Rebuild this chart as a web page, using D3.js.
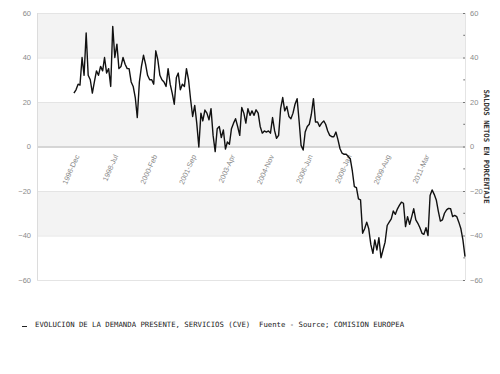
<!DOCTYPE html>
<html>
<head>
<meta charset="utf-8">
<script src="https://cdn.jsdelivr.net/npm/d3@7"></script>
<style>
  body { margin: 0; background: #fff; }
  .axis text { font-family: "Liberation Sans", Arial, sans-serif; font-size: 7.5px; fill: #8a8a8a; }
  .mono { font-family: "DejaVu Sans Mono", monospace; font-size: 7.3px; fill: #222; white-space: pre; }
</style>
</head>
<body>
<script>
var width = 500,
    height = 374;

// monthly series, starting 1996-Dec
var startMonth = "1996-Dec";
var values = [
  24, 25.5, 28, 27.6, 40, 32, 51, 32, 30, 24,
  29, 34, 32, 36, 34, 40, 33, 35, 27, 54,
  40, 46, 35, 36, 40, 37, 35, 35, 29, 27,
  22, 13, 29, 36, 41, 37, 32, 30, 30, 28,
  43, 39, 32, 30, 29, 27, 35, 28, 24, 19,
  31, 33, 25.5, 28, 27, 35, 30, 21, 13.5, 18.5,
  10.5, -0.2, 15, 11.5, 16.4, 15, 12, 17, 5, -2.3,
  8, 9, 4, 7.4, -1.2, 2, 1, 8, 10.5, 12.5,
  9, 5, 17.5, 15, 10.5, 17, 14, 16, 14, 16.5,
  15, 9, 6, 7, 6.5, 7, 6, 13, 7, 3.7,
  5, 17, 22, 16, 18, 13.5, 12.5, 15, 19, 21.5,
  11, 0.5, -1.6, 6.5, 9, 10, 14.5, 21.5, 11, 11,
  9, 10.5, 11.5, 10, 7, 5, 4.4, 4.4, 6.5, 3,
  -1, -3, -3.5, -3.5, -4.5, -5.5, -11, -18, -18.5, -23.5,
  -24, -39, -37, -34, -37, -44, -48, -42, -46.5, -41,
  -50, -46.5, -43, -35.5, -34, -32.5, -29, -30.5, -28, -26.5,
  -25, -25.5, -36, -31.5, -35, -31.5, -28, -33, -34.5, -36.5,
  -39, -39.5, -36.5, -40, -22, -19.5, -21.5, -24, -29, -33.5,
  -33, -30, -28.5, -27.8, -28, -31.5, -31, -31.5, -34, -37,
  -42, -49.5
];

var xTickLabels = ["1996-Dec", "1998-Jul", "2000-Feb", "2001-Sep", "2003-Apr",
                   "2004-Nov", "2006-Jun", "2008-Jan", "2009-Aug", "2011-Mar"];
var yTicks = [-60, -40, -20, 0, 20, 40, 60];
var yMinorTicks = [-50, -30, -10, 10, 30, 50];
var bands = [[40, 60], [0, 20], [-40, -20]];

var legendText = "EVOLUCION DE LA DEMANDA PRESENTE, SERVICIOS (CVE)  Fuente - Source; COMISION EUROPEA";
var yTitle = "SALDOS NETOS EN PORCENTAJE";

var parseMonth = d3.timeParse("%Y-%b");
var start = parseMonth(startMonth);

var data = values.map(function(v, i) {
  return { date: d3.timeMonth.offset(start, i), value: v };
});

var plotLeft = 37, plotRight = 465, plotTop = 13, plotBottom = 280;

var x = d3.scaleTime()
    .domain([d3.timeMonth.offset(start, -18), d3.timeMonth.offset(start, values.length - 1)])
    .range([plotLeft, plotRight]);

var y = d3.scaleLinear()
    .domain([-60, 60])
    .range([plotBottom, plotTop]);

var svg = d3.select("body").append("svg")
    .attr("width", width)
    .attr("height", height);

// alternating bands
svg.append("g").selectAll("rect")
    .data(bands)
  .enter().append("rect")
    .attr("x", plotLeft)
    .attr("width", plotRight - plotLeft)
    .attr("y", function(d) { return y(d[1]); })
    .attr("height", function(d) { return y(d[0]) - y(d[1]); })
    .style("fill", "#f3f3f3");

// grid lines
svg.append("g").selectAll("line")
    .data(yTicks)
  .enter().append("line")
    .attr("x1", plotLeft)
    .attr("x2", plotRight)
    .attr("y1", function(d) { return y(d) + 0.5; })
    .attr("y2", function(d) { return y(d) + 0.5; })
    .style("stroke", function(d) { return d === 0 ? "#c8c8c8" : "#e4e4e4"; })
    .style("stroke-width", function(d) { return d === 0 ? 1.6 : 1; });

// frame sides
svg.append("line")
    .attr("x1", plotLeft + 0.5).attr("x2", plotLeft + 0.5)
    .attr("y1", plotTop).attr("y2", plotBottom)
    .style("stroke", "#dcdcdc");
svg.append("line")
    .attr("x1", plotRight + 0.5).attr("x2", plotRight + 0.5)
    .attr("y1", plotTop).attr("y2", plotBottom)
    .style("stroke", "#e4e4e4");

// left axis
svg.append("g")
    .attr("class", "axis")
    .attr("transform", "translate(" + (plotLeft - 2) + ",0)")
    .call(d3.axisLeft(y).tickValues(yTicks).tickSize(0).tickPadding(4))
    .call(function(g) { g.select(".domain").remove(); });

// right axis
var rAxis = svg.append("g")
    .attr("class", "axis")
    .attr("transform", "translate(" + plotRight + ",0)")
    .call(d3.axisRight(y).tickValues(yTicks).tickSize(-2).tickPadding(5))
    .call(function(g) { g.select(".domain").remove(); });
rAxis.selectAll(".tick line").style("stroke", "#777");

svg.append("g").selectAll("rect")
    .data(yMinorTicks)
  .enter().append("rect")
    .attr("x", plotRight - 1.5)
    .attr("y", function(d) { return y(d) - 0.5; })
    .attr("width", 1.2)
    .attr("height", 1.2)
    .style("fill", "#555");

// x tick labels
svg.append("g").selectAll("text")
    .data(xTickLabels)
  .enter().append("text")
    .attr("transform", function(d) {
      return "translate(" + (x(parseMonth(d)) + 1) + "," + (plotBottom - 126) + ") rotate(-66)";
    })
    .attr("text-anchor", "end")
    .attr("dy", "0.7em")
    .style("font-family", "Liberation Sans, Arial, sans-serif")
    .style("font-size", "7.3px")
    .style("fill", "#8a8a8a")
    .text(function(d) { return d; });

// series line
var line = d3.line()
    .x(function(d) { return x(d.date); })
    .y(function(d) { return y(d.value); });

svg.append("path")
    .datum(data)
    .attr("d", line)
    .style("fill", "none")
    .style("stroke", "#111")
    .style("stroke-width", 1.4)
    .style("stroke-linejoin", "round");

// right title
svg.append("text")
    .attr("class", "mono")
    .attr("transform", "translate(484," + y(0) + ") rotate(90)")
    .attr("text-anchor", "middle")
    .style("font-weight", "bold")
    .style("fill", "#333")
    .text(yTitle);

// legend
svg.append("line")
    .attr("x1", 22).attr("x2", 27)
    .attr("y1", 326.5).attr("y2", 326.5)
    .style("stroke", "#222")
    .style("stroke-width", 1);

svg.append("text")
    .attr("class", "mono")
    .attr("x", 35)
    .attr("y", 327)
    .text(legendText);
</script>
</body>
</html>
